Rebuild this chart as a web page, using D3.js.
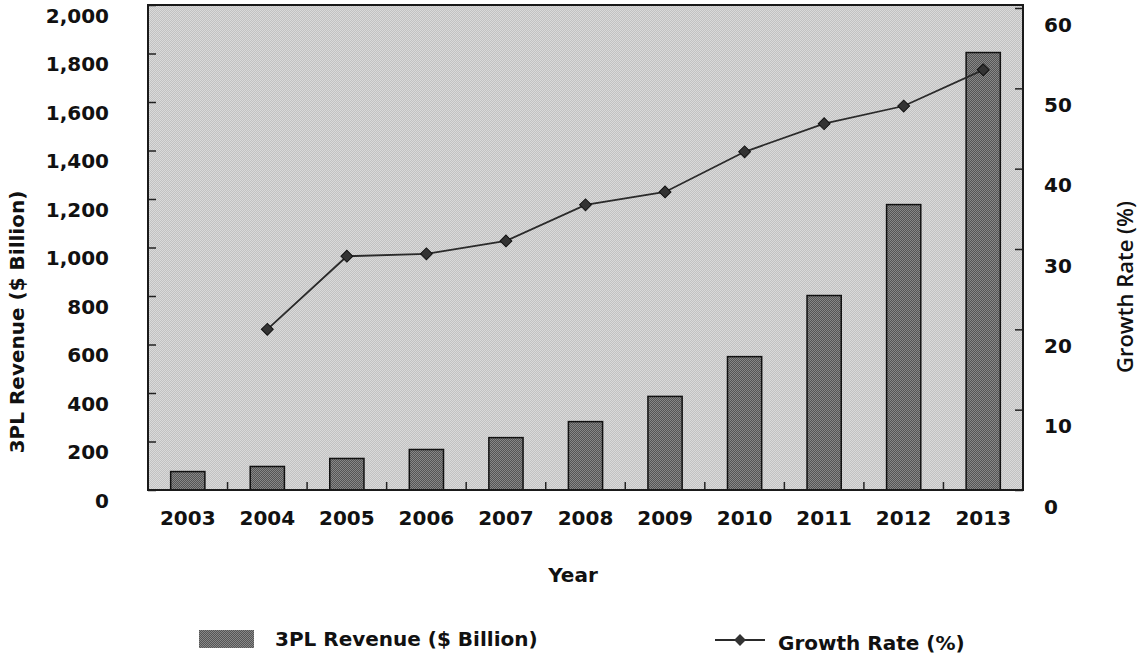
<!DOCTYPE html>
<meta charset="utf-8">
<style>
body { margin: 0; background: #fff; }
text { font-family: "DejaVu Sans", sans-serif; font-weight: bold; fill: #111; }
</style>
<svg width="1142" height="662"></svg>
<script src="https://cdn.jsdelivr.net/npm/d3@7"></script>
<script>

// values
var years = ["2003", "2004", "2005", "2006", "2007", "2008", "2009", "2010", "2011", "2012", "2013"];
var revenue = [76, 97, 130, 167, 216, 282, 386, 550, 802, 1177, 1804];
var growth = [null, 20.0, 29.1, 29.4, 31.0, 35.5, 37.1, 42.1, 45.6, 47.8, 52.3];
var revenueTicks = [0, 200, 400, 600, 800, 1000, 1200, 1400, 1600, 1800, 2000];
var growthTicks = [0, 10, 20, 30, 40, 50, 60];

var svg = d3.select("svg");
var plotL = 148, plotR = 1023, plotT = 5, plotB = 490;

// dithered look of the old chart
var defs = svg.append("defs");
function dither(id, a, b) {
  var p = defs.append("pattern")
      .attr("id", id)
      .attr("width", 2).attr("height", 2)
      .attr("patternUnits", "userSpaceOnUse");
  p.append("rect").attr("width", 2).attr("height", 2).attr("fill", a);
  p.append("rect").attr("width", 1).attr("height", 1).attr("fill", b);
  p.append("rect").attr("x", 1).attr("y", 1).attr("width", 1).attr("height", 1).attr("fill", b);
}
dither("bg", "#c2c2c2", "#dadada");
dither("bar", "#555", "#888");

var x = d3.scaleBand()
    .domain(years)
    .range([plotL, plotR])
    .padding(0);

var yL = d3.scaleLinear()
    .domain([0, 2000])
    .range([plotB, plotT]);

var yR = d3.scaleLinear()
    .domain([0, 60])
    .range([plotB, 8]);

svg.append("rect")
    .attr("x", plotL).attr("y", plotT)
    .attr("width", plotR - plotL).attr("height", plotB - plotT)
    .attr("fill", "url(#bg)");

var bw = x.bandwidth() * 0.43;

svg.append("g")
  .selectAll("rect")
  .data(years)
  .enter().append("rect")
    .attr("x", function(d) { return x(d) + (x.bandwidth() - bw) / 2; })
    .attr("y", function(d, i) { return yL(revenue[i]); })
    .attr("width", bw)
    .attr("height", function(d, i) { return plotB - yL(revenue[i]); })
    .attr("fill", "url(#bar)")
    .attr("stroke", "#111")
    .attr("stroke-width", 1.5);

// small ticks between the years
svg.append("g")
  .selectAll("line")
  .data(years.slice(1))
  .enter().append("line")
    .attr("x1", function(d) { return x(d); })
    .attr("x2", function(d) { return x(d); })
    .attr("y1", plotB)
    .attr("y2", plotB - 8)
    .attr("stroke", "#222")
    .attr("stroke-width", 1.5);

// left axis
var gl = svg.append("g")
    .attr("transform", "translate(" + plotL + ",0)")
    .call(d3.axisLeft(yL).tickValues(revenueTicks).tickSize(-8).tickPadding(39).tickFormat(d3.format(",")));
gl.select(".domain").remove();
gl.selectAll("line").attr("stroke", "#222").attr("stroke-width", 1.5);
gl.selectAll("text").attr("font-size", 20).attr("dy", "0.87em")
    .attr("font-family", "DejaVu Sans").attr("font-weight", "bold").attr("fill", "#111");

// right axis
var gr = svg.append("g")
    .attr("transform", "translate(" + plotR + ",0)")
    .call(d3.axisRight(yR).tickValues(growthTicks).tickSize(-8).tickPadding(21));
gr.select(".domain").remove();
gr.selectAll("line").attr("stroke", "#222").attr("stroke-width", 1.5);
gr.selectAll("text").attr("font-size", 20).attr("dy", "1.15em")
    .attr("font-family", "DejaVu Sans").attr("font-weight", "bold").attr("fill", "#111");

// year labels
var gx = svg.append("g")
    .attr("transform", "translate(0," + plotB + ")")
    .call(d3.axisBottom(x).tickSize(0).tickPadding(21));
gx.select(".domain").remove();
gx.selectAll("text").attr("font-size", 20)
    .attr("font-family", "DejaVu Sans").attr("font-weight", "bold").attr("fill", "#111");

// frame
svg.append("rect")
    .attr("x", plotL).attr("y", plotT)
    .attr("width", plotR - plotL).attr("height", plotB - plotT)
    .attr("fill", "none")
    .attr("stroke", "#1a1a1a")
    .attr("stroke-width", 2);

// growth line
var pts = years.map(function(d, i) { return { year: d, g: growth[i] }; })
    .filter(function(d) { return d.g != null; });

var line = d3.line()
    .x(function(d) { return x(d.year) + x.bandwidth() / 2; })
    .y(function(d) { return yR(d.g); });

svg.append("path")
    .datum(pts)
    .attr("fill", "none")
    .attr("stroke", "#2a2a2a")
    .attr("stroke-width", 1.8)
    .attr("d", line);

var marker = d3.symbol().type(d3.symbolSquare).size(70);

svg.append("g")
  .selectAll("path")
  .data(pts)
  .enter().append("path")
    .attr("d", marker)
    .attr("transform", function(d) {
      return "translate(" + (x(d.year) + x.bandwidth() / 2) + "," + yR(d.g) + ") rotate(45)";
    })
    .attr("fill", "#333")
    .attr("stroke", "#111")
    .attr("stroke-width", 1);

// axis titles
svg.append("text")
    .attr("transform", "translate(24,322) rotate(-90)")
    .attr("text-anchor", "middle")
    .attr("font-size", 20)
    .text("3PL Revenue ($ Billion)");

svg.append("text")
    .attr("transform", "translate(1133,287) rotate(-90)")
    .attr("text-anchor", "middle")
    .attr("font-size", 22)
    .style("font-weight", "600")
    .style("font-family", "'Open Sans', sans-serif")
    .text("Growth Rate (%)");

svg.append("text")
    .attr("x", 573)
    .attr("y", 582)
    .attr("text-anchor", "middle")
    .attr("font-size", 20)
    .text("Year");

// legend
var lg = svg.append("g");
lg.append("rect")
    .attr("x", 199).attr("y", 630)
    .attr("width", 55).attr("height", 18)
    .attr("fill", "url(#bar)");
lg.append("text")
    .attr("x", 275).attr("y", 646)
    .attr("font-size", 20)
    .text("3PL Revenue ($ Billion)");

lg.append("line")
    .attr("x1", 715).attr("x2", 765)
    .attr("y1", 640).attr("y2", 640)
    .attr("stroke", "#2a2a2a")
    .attr("stroke-width", 1.8);
lg.append("path")
    .attr("d", marker)
    .attr("transform", "translate(740,640) rotate(45)")
    .attr("fill", "#333");
lg.append("text")
    .attr("x", 778).attr("y", 650)
    .attr("font-size", 20)
    .text("Growth Rate (%)");

</script>
